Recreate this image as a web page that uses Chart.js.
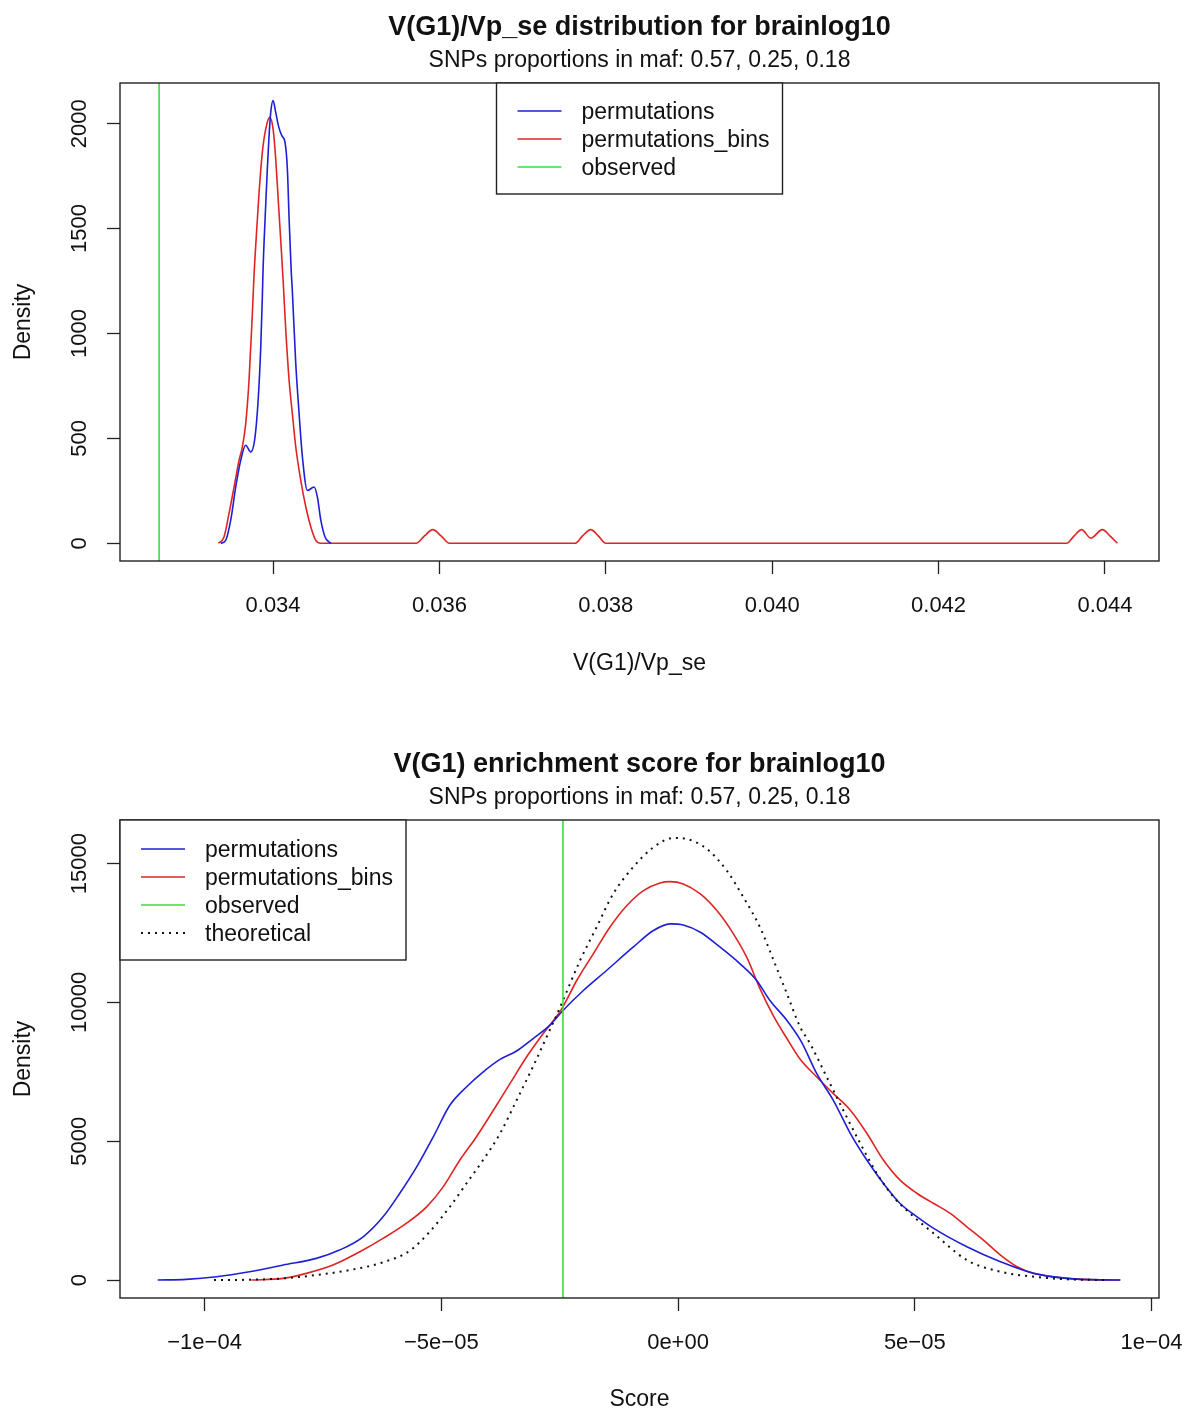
<!DOCTYPE html>
<html>
<head>
<meta charset="utf-8">
<title>V(G1) density plots for brainlog10</title>
<script src="https://cdn.jsdelivr.net/npm/chart.js@4.4.1/dist/chart.umd.min.js"></script>
<style>
  html, body { margin: 0; padding: 0; background: #fff; }
  canvas { display: block; }
</style>
</head>
<body>
<canvas id="sePlot" width="1185" height="705"></canvas>
<canvas id="scorePlot" width="1185" height="705"></canvas>
<script>
// ---- V(G1)/Vp_se density ----
const seLimX = [0.03216, 0.04465];
const seLimY = [-84.4, 2194];
const seTicksX = [0.034, 0.036, 0.038, 0.040, 0.042, 0.044];
const seTickLabelsX = ['0.034', '0.036', '0.038', '0.040', '0.042', '0.044'];
const seTicksY = [0, 500, 1000, 1500, 2000];
const seObserved = 0.03263;

const sePermX = [0.033371, 0.033431, 0.033491, 0.033551, 0.033611, 0.033671, 0.033732, 0.033783,
  0.033823, 0.033852, 0.033871, 0.033880, 0.033904, 0.033931, 0.033952, 0.033972, 0.034000,
  0.034032, 0.034064, 0.034105, 0.034144, 0.034172, 0.034193, 0.034217, 0.034232, 0.034273,
  0.034313, 0.034353, 0.034413, 0.034493, 0.034533, 0.034574, 0.034625, 0.034674, 0.034698];
const sePermY = [0, 14, 110, 268, 395, 467, 435, 506,
  697, 935, 1173, 1308, 1546, 1784, 1943, 2054, 2110,
  2054, 1991, 1943, 1911, 1784, 1546, 1308, 1200, 856,
  618, 411, 252, 268, 220, 110, 30, 6, 0];

const seBinsX = [0.033342, 0.033410, 0.033470, 0.033531, 0.033591, 0.033631, 0.033671, 0.033711,
  0.033751, 0.033771, 0.033799, 0.033832, 0.033871, 0.033912, 0.033960, 0.034000, 0.034032,
  0.034064, 0.034096, 0.034120, 0.034153, 0.034193, 0.034232, 0.034273, 0.034333, 0.034394,
  0.034454, 0.034514, 0.034574,
  0.03572, 0.03582, 0.03592, 0.03602, 0.03612,
  0.03763, 0.03772, 0.03782, 0.03791, 0.03800,
  0.04354, 0.04363, 0.04372, 0.04383, 0.04397, 0.04406, 0.04415];
const seBinsY = [0, 30, 141, 268, 395, 459, 570, 776,
  1094, 1276, 1467, 1673, 1863, 1975, 2030, 1975, 1832,
  1625, 1419, 1260, 1014, 776, 618, 459, 300, 173,
  78, 14, 0,
  0, 35, 65, 35, 0,
  0, 35, 65, 35, 0,
  0, 35, 65, 25, 65, 35, 0];

// ---- V(G1) enrichment score density ----
const scoreLimX = [-1.1786e-4, 1.0158e-4];
const scoreLimY = [-647, 16572];
const scoreTicksX = [-1e-4, -5e-5, 0, 5e-5, 1e-4];
const scoreTickLabelsX = ['\u22121e\u221204', '\u22125e\u221205', '0e+00', '5e\u221205', '1e\u221204'];
const scoreTicksY = [0, 5000, 10000, 15000];
const scoreObserved = -2.43e-5;

const scorePermX = [-10.99, -10.39, -9.75, -9.05, -8.34, -7.64, -7.15, -6.65, -6.23, -5.88, -5.52,
  -5.17, -4.82, -4.47, -4.12, -3.76, -3.41, -3.06, -2.71, -2.43, -2.00, -1.51, -0.95, -0.52,
  -0.17, 0.11, 0.47, 0.89, 1.31, 1.66, 1.95, 2.30, 2.60, 2.93, 3.28, 3.64, 3.99, 4.34, 4.69,
  5.05, 5.40, 6.10, 6.81, 7.51, 8.22, 8.92, 9.34].map(v => v * 1e-5);
const scorePermY = [0, 25, 119, 300, 540, 780, 1079, 1559, 2277, 3118, 4076,
  5155, 6295, 6953, 7493, 7950, 8250, 8700, 9172, 9712, 10431, 11151, 11989, 12590,
  12830, 12790, 12529, 11989, 11391, 10791, 10050, 9352, 8600, 7435, 6475, 5277, 4316, 3478, 2759,
  2277, 1860, 1198, 658, 241, 61, 5, 0];

const scoreBinsX = [-9.01, -8.34, -7.85, -7.29, -6.72, -6.23, -5.74, -5.31, -4.96, -4.61, -4.26,
  -3.90, -3.55, -3.20, -2.85, -2.46, -2.14, -1.79, -1.44, -1.08, -0.73, -0.38, -0.17, 0.11,
  0.47, 0.82, 1.17, 1.45, 1.73, 2.02, 2.30, 2.58, 2.93, 3.28, 3.64, 3.99, 4.34, 4.69, 5.05,
  5.40, 5.75, 6.10, 6.45, 6.81, 7.16, 7.51, 8.22, 8.92, 9.34].map(v => v * 1e-5);
const scoreBinsY = [0, 60, 240, 540, 1019, 1499, 2038, 2637, 3356, 4316, 5155,
  6115, 7075, 8033, 8873, 9760, 10791, 11752, 12710, 13492, 14028, 14305, 14352, 14270,
  13910, 13310, 12471, 11629, 10500, 9500, 8700, 7950, 7314, 6716, 6115, 5277, 4316, 3597, 3118,
  2759, 2399, 1918, 1439, 899, 480, 241, 61, 5, 0];

const scoreTheoX = [-9.80, -9.05, -8.34, -7.64, -6.93, -6.23, -5.67, -5.24, -4.82, -4.47, -4.12,
  -3.76, -3.41, -3.06, -2.71, -2.49, -2.07, -1.72, -1.37, -0.95, -0.52, -0.10, 0.18, 0.61,
  1.03, 1.38, 1.73, 2.02, 2.30, 2.58, 2.79, 3.14, 3.49, 3.85, 4.20, 4.55, 4.90, 5.40, 6.10,
  6.81, 7.51, 8.22, 9.06].map(v => v * 1e-5);
const scoreTheoY = [0, 10, 60, 180, 360, 640, 1050, 1750, 2637, 3478, 4316,
  5277, 6475, 7700, 9000, 9832, 11510, 12710, 13910, 14868, 15588, 15925, 15888, 15528,
  14748, 13789, 12710, 11510, 10313, 9113, 8514, 7314, 6115, 4917, 3838, 2997, 2399, 1679, 719,
  300, 120, 25, 0];

const FONT = "'Liberation Sans', Arial, Helvetica, sans-serif";
const BLUE = '#1f1fd6';
const RED = '#e02424';
const GREEN = '#3fdc3f';
const BLACK = '#111';

const pairs = (xs, ys) => xs.map((x, i) => ({ x, y: ys[i] }));

// frame, vertical y labels, observed line and legend the way base R draws them
const rDecor = {
  id: 'rDecor',
  afterDatasetsDraw(chart, args, opts) {
    const { ctx, chartArea: a, scales: { x } } = chart;
    const px = x.getPixelForValue(opts.observed);
    ctx.save();
    ctx.strokeStyle = GREEN;
    ctx.lineWidth = 1.6;
    ctx.beginPath();
    ctx.moveTo(px, a.top);
    ctx.lineTo(px, a.bottom);
    ctx.stroke();
    ctx.restore();
  },
  afterDraw(chart, args, opts) {
    const { ctx, chartArea: a, scales: { y } } = chart;
    ctx.save();
    ctx.strokeStyle = '#222';
    ctx.lineWidth = 1.4;
    ctx.strokeRect(a.left, a.top, a.right - a.left, a.bottom - a.top);

    // y tick labels run along the axis
    ctx.fillStyle = BLACK;
    ctx.font = `22px ${FONT}`;
    ctx.textAlign = 'center';
    ctx.textBaseline = 'middle';
    y.ticks.forEach(t => {
      const py = y.getPixelForValue(t.value);
      ctx.save();
      ctx.translate(80, py);
      ctx.rotate(-Math.PI / 2);
      ctx.fillText(String(t.value), 0, 0);
      ctx.restore();
    });

    // legend
    const lg = opts.legend;
    const w = 286, h = 28 * lg.items.length + 27 + lg.shift;
    const left = lg.align === 'top' ? (a.left + a.right) / 2 - w / 2 : a.left;
    const top = a.top;
    ctx.fillStyle = '#fff';
    ctx.fillRect(left, top, w, h);
    ctx.strokeStyle = '#222';
    ctx.lineWidth = 1.4;
    ctx.strokeRect(left, top, w, h);
    ctx.font = `23px ${FONT}`;
    ctx.textAlign = 'left';
    lg.items.forEach((it, i) => {
      const ry = top + 28 + lg.shift + i * 28;
      ctx.strokeStyle = it.color;
      ctx.lineWidth = it.dash ? 2 : 1.6;
      ctx.setLineDash(it.dash || []);
      ctx.beginPath();
      ctx.moveTo(left + 21, ry);
      ctx.lineTo(left + 65, ry);
      ctx.stroke();
      ctx.setLineDash([]);
      ctx.fillStyle = BLACK;
      ctx.fillText(it.label, left + 85, ry + 2);
    });
    ctx.restore();
  }
};

function makePlot(canvasId, cfg) {
  const tickGrid = { drawOnChartArea: false, drawTicks: true, tickLength: 13, tickColor: '#222', tickWidth: 1.3 };
  return new Chart(document.getElementById(canvasId), {
    type: 'line',
    data: { datasets: cfg.datasets },
    options: {
      responsive: false,
      animation: false,
      devicePixelRatio: 1,
      layout: { padding: { top: cfg.padTop, left: 0, right: 26, bottom: 0 } },
      elements: {
        point: { radius: 0 },
        line: { borderWidth: 1.6, cubicInterpolationMode: 'monotone' }
      },
      plugins: {
        legend: { display: false },
        tooltip: { enabled: false },
        title: {
          display: true, text: cfg.title, fullSize: false, color: BLACK,
          font: { family: FONT, size: 27, weight: 'bold' }, padding: { top: 11.8, bottom: 1 }
        },
        subtitle: {
          display: true, text: 'SNPs proportions in maf: 0.57, 0.25, 0.18', fullSize: false, color: BLACK,
          font: { family: FONT, size: 23 }, padding: { top: 2, bottom: 8.2 }
        },
        rDecor: { observed: cfg.observed, legend: cfg.legend }
      },
      scales: {
        x: {
          type: 'linear', min: cfg.limX[0], max: cfg.limX[1],
          grid: tickGrid, border: { display: false },
          afterBuildTicks: s => { s.ticks = cfg.ticksX.map(v => ({ value: v })); },
          afterFit: s => { s.height = cfg.xHeight; s.paddingLeft = 0; s.paddingRight = 0; },
          ticks: {
            color: BLACK, padding: 18.5, maxRotation: 0, autoSkip: false,
            font: { family: FONT, size: 22 },
            callback: (v, i) => cfg.tickLabelsX[i]
          },
          title: {
            display: true, text: cfg.xTitle, color: BLACK,
            font: { family: FONT, size: 23 }, padding: { top: 0, bottom: cfg.xTitlePad }
          }
        },
        y: {
          type: 'linear', min: cfg.limY[0], max: cfg.limY[1],
          grid: tickGrid, border: { display: false },
          afterBuildTicks: s => { s.ticks = cfg.ticksY.map(v => ({ value: v })); },
          afterFit: s => { s.width = 120; s.paddingTop = 0; s.paddingBottom = 0; },
          ticks: { display: false },
          title: {
            display: true, text: 'Density', color: BLACK,
            font: { family: FONT, size: 23 }, padding: { top: 10, bottom: 0 }
          }
        }
      }
    },
    plugins: [rDecor]
  });
}

makePlot('sePlot', {
  title: 'V(G1)/Vp_se distribution for brainlog10',
  xTitle: 'V(G1)/Vp_se',
  padTop: 0, xHeight: 144, xTitlePad: 27.2,
  limX: seLimX, limY: seLimY,
  ticksX: seTicksX, tickLabelsX: seTickLabelsX, ticksY: seTicksY,
  observed: seObserved,
  datasets: [
    { label: 'permutations', data: pairs(sePermX, sePermY), borderColor: BLUE },
    { label: 'permutations_bins', data: pairs(seBinsX, seBinsY), borderColor: RED }
  ],
  legend: {
    align: 'top', shift: 0,
    items: [
      { label: 'permutations', color: BLUE },
      { label: 'permutations_bins', color: RED },
      { label: 'observed', color: GREEN }
    ]
  }
});

makePlot('scorePlot', {
  title: 'V(G1) enrichment score for brainlog10',
  xTitle: 'Score',
  padTop: 32, xHeight: 112, xTitlePad: -3,
  limX: scoreLimX, limY: scoreLimY,
  ticksX: scoreTicksX, tickLabelsX: scoreTickLabelsX, ticksY: scoreTicksY,
  observed: scoreObserved,
  datasets: [
    { label: 'theoretical', data: pairs(scoreTheoX, scoreTheoY), borderColor: BLACK, borderWidth: 2, borderDash: [2, 5] },
    { label: 'permutations', data: pairs(scorePermX, scorePermY), borderColor: BLUE },
    { label: 'permutations_bins', data: pairs(scoreBinsX, scoreBinsY), borderColor: RED }
  ],
  legend: {
    align: 'topleft', shift: 1,
    items: [
      { label: 'permutations', color: BLUE },
      { label: 'permutations_bins', color: RED },
      { label: 'observed', color: GREEN },
      { label: 'theoretical', color: BLACK, dash: [2, 5] }
    ]
  }
});
</script>
</body>
</html>
